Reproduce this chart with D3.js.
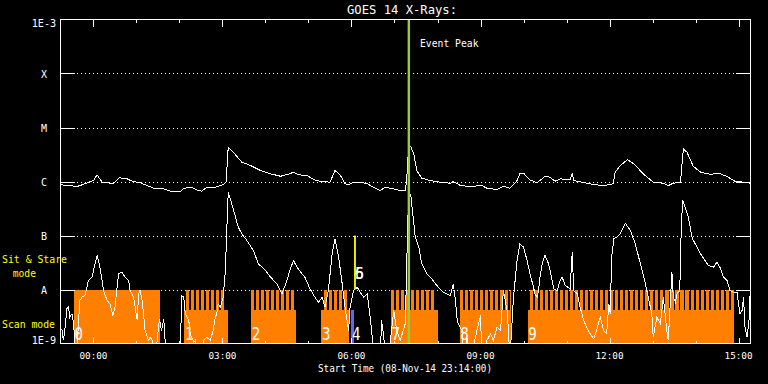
<!DOCTYPE html>
<html><head><meta charset="utf-8">
<script src="https://cdn.jsdelivr.net/npm/d3@7"></script>
<style>html,body{margin:0;background:#000;overflow:hidden}svg{display:block}</style>
</head><body>
<svg id="c" width="768" height="384"></svg>
<script>
// ---------- DATA ----------
const titleText = "GOES 14 X-Rays:";
const startTime = "2014-11-08T23:14:00Z";
const endTime = "2014-11-09T15:16:00Z";
const refDay = "2014-11-09T00:00:00Z"; // times below are minutes from this
const levelValues = [1e-9, 1e-8, 1e-7, 1e-6, 1e-5, 1e-4, 1e-3];
const levelLabels = ["1E-9", "A", "B", "C", "M", "X", "1E-3"];

// GOES long channel (1-8 A)
const longMin = [-46,-23,-19,0,5,12,19,28,36,47,54,65,75,86,95,102,109,121,126,137,144,151,158,170,181,185,188,193,207,219,233,247,261,274,279,286,298,307,316,330,337,344,351,356,363,372,382,391,400,407,419,428,435,437,438,440,443,447,451,458,470,484,498,502,512,526,542,549,563,572,581,591,595,600,609,619,630,637,644,651,665,668,670,682,698,712,725,728,735,745,754,767,781,795,802,809,819,823,828,837,847,861,872,884,895,907,916];
const longFlux = [8.7e-7,8.1e-7,8.4e-7,1.04e-6,1.33e-6,9.7e-7,9.5e-7,9.1e-7,1.17e-6,1.12e-6,1.01e-6,9.5e-7,8.4e-7,7.3e-7,7.5e-7,7.0e-7,6.5e-7,6.5e-7,7.5e-7,7.8e-7,7.0e-7,6.6e-7,7.8e-7,7.8e-7,8.8e-7,9.7e-7,4.3e-6,3.75e-6,2.28e-6,1.98e-6,1.6e-6,1.39e-6,1.25e-6,1.39e-6,1.49e-6,1.33e-6,1.29e-6,1.09e-6,1.01e-6,9.7e-7,1.6e-6,1.33e-6,9.1e-7,8.7e-7,9.7e-7,9.7e-7,9.1e-7,7.8e-7,6.8e-7,7.8e-7,7.3e-7,6.8e-7,6.8e-7,1.04e-6,1.84e-6,4.8e-6,4.3e-6,3.26e-6,1.6e-6,1.15e-6,1.04e-6,9.7e-7,9.3e-7,1.0e-6,8.4e-7,8.1e-7,8.4e-7,7.5e-7,7.1e-7,8.2e-7,7.5e-7,1.04e-6,1.39e-6,1.43e-6,1.07e-6,9.5e-7,1.24e-6,1.2e-6,1.01e-6,1.12e-6,1.07e-6,1.45e-6,1.04e-6,9.7e-7,8.8e-7,8.4e-7,9.1e-7,1.49e-6,1.98e-6,2.52e-6,2.13e-6,1.39e-6,9.7e-7,9.3e-7,8.4e-7,9.3e-7,9.7e-7,4.04e-6,3.49e-6,1.9e-6,1.49e-6,1.35e-6,1.43e-6,1.24e-6,1.01e-6,9.7e-7,9.3e-7];

// GOES short channel (0.5-4 A); values under 1E-9 fall off the plot
const shortMin = [-46,-44,-42,-40,-37,-35,-33,-30,-28,-26,-24,-21,-19,-16,-12,-7,-2,0,5,7,9,12,14,19,23,27,30,35,40,44,49,51,56,61,63,65,68,72,77,79,82,86,92,95,98,100,102,121,123,126,128,133,135,140,142,146,154,158,163,167,170,172,174,177,179,181,184,186,188,193,202,207,214,223,230,240,247,256,263,270,274,279,284,291,295,302,309,314,319,323,328,333,337,342,347,351,356,358,363,368,372,377,382,386,389,391,400,402,405,408,414,419,423,428,435,437,438,440,443,449,454,458,465,472,479,488,498,502,505,507,509,514,516,521,526,535,540,542,549,554,558,563,568,572,577,579,581,586,591,595,600,605,609,614,616,619,621,623,626,630,635,640,642,647,651,654,658,665,668,670,675,679,684,688,693,698,702,707,712,716,719,721,723,726,730,735,742,749,756,763,770,774,779,781,786,791,795,800,802,807,809,812,814,818,820,822,830,835,837,847,858,865,870,874,879,884,888,893,898,900,902,905,907,909,912,915,916];
const shortFlux = [1.74e-9,1.87e-9,1.14e-9,1.74e-9,4.4e-9,4.8e-9,3.07e-9,3.55e-9,2.48e-9,1.14e-9,5e-10,2.32e-9,6.25e-9,7.2e-9,7.7e-9,1.47e-8,1.69e-8,2.25e-8,4.27e-8,3.44e-8,2.59e-8,1.47e-8,9.6e-9,6.25e-9,5.4e-9,3.3e-9,4.7e-9,1.95e-8,2.09e-8,1.69e-8,1.47e-8,9.6e-9,7.2e-9,2.67e-9,8.3e-9,9.6e-9,6.25e-9,1.74e-9,1.14e-9,1.31e-9,1.14e-9,5e-10,2.86e-9,1.74e-9,2.86e-9,1.14e-9,5e-10,5e-10,7.7e-9,7.2e-9,3.55e-9,2.67e-9,1.51e-9,1.06e-9,1.14e-9,5e-10,1.14e-9,1.31e-9,1.14e-9,1.74e-9,3.07e-9,3.55e-9,5.4e-9,4.7e-9,5.8e-9,7.2e-9,2.25e-8,1.24e-7,6.3e-7,3.86e-7,1.43e-7,1.07e-7,8.1e-8,5.3e-8,3.0e-8,2.25e-8,1.69e-8,1.28e-8,8.3e-9,1.47e-8,2.25e-8,3.44e-8,2.59e-8,1.95e-8,1.69e-8,1.03e-8,7.2e-9,5.8e-9,7.2e-9,4.7e-9,1.03e-8,4.58e-8,8.7e-8,4.0e-8,1.28e-8,4.7e-9,1.74e-9,4.7e-9,9.6e-9,1.1e-8,8.9e-9,7.2e-9,8.3e-9,3.07e-9,1.31e-9,5e-10,5e-10,2.67e-9,1.31e-9,5e-10,1.06e-9,4.1e-9,1.74e-9,1.14e-9,2.32e-9,2.25e-8,1.09e-7,6.8e-7,5.1e-7,9.3e-8,6.1e-8,3.0e-8,1.95e-8,1.58e-8,1.19e-8,8.9e-9,7.7e-9,1.28e-8,6.25e-9,3.07e-9,2.32e-9,1.74e-9,5e-10,1.31e-9,5e-10,1.74e-9,3.3e-9,5e-10,1.14e-9,1.51e-9,1.14e-9,2.0e-9,1.74e-9,9.6e-9,4.1e-9,1.74e-9,5e-10,7.2e-9,3.44e-8,7.0e-8,6.1e-8,3.44e-8,1.95e-8,1.1e-8,8.3e-9,7.2e-9,9.6e-9,1.69e-8,3.0e-8,4.27e-8,3.0e-8,1.47e-8,1.03e-8,9.6e-9,1.47e-8,1.69e-8,1.19e-8,1.03e-8,4.9e-8,9.6e-9,8.3e-9,4.7e-9,2.67e-9,2.0e-9,1.51e-9,1.22e-9,1.74e-9,3.07e-9,1.74e-9,1.51e-9,5.4e-9,3.55e-9,4.0e-8,8.7e-8,9.3e-8,1.07e-7,1.69e-7,1.24e-7,7.0e-8,3.0e-8,1.28e-8,7.2e-9,3.55e-9,1.31e-9,3.07e-9,2.32e-9,7.2e-9,1.74e-9,1.14e-9,2.09e-8,7.2e-9,5.8e-9,8.3e-9,9.6e-9,1.24e-7,4.6e-7,2.18e-7,9.3e-8,8.1e-8,4.58e-8,2.78e-8,2.59e-8,3.2e-8,2.59e-8,1.69e-8,1.47e-8,9.6e-9,8.9e-9,8.9e-9,5.4e-9,3.55e-9,4.1e-9,7.2e-9,2.0e-9,1.31e-9,3.07e-9,7.7e-9];

// Observation blocks (minutes from refDay)
const obsLabels = ["0", "1", "2", "3", "4", "7", "8", "9"];
const obsMode   = ["sit", "raster", "raster", "raster", "scan", "raster", "raster", "raster"];
const obsStart  = [-27, 127, 220, 318, 360, 415, 511, 606];
const obsEnd    = [93, 188, 282, 356, 364, 481, 582, 894];
const ssStart   = [-27, 129, 220, 322, null, 415, 511, 609];
const ssEnd     = [93, 185, 282, 354, null, 477, 582, 893];
const ssCadence = 7;    // minutes between sit & stare frames
const ssDuration = 4.3; // minutes per frame
const markerMin = 365;  // short observations 5 & 6
const markerLabels = ["5", "6"];
const eventPeakMin = 440;

// ---------- DRAW ----------
const L = 60.5, R = 750, T = 19.5, B = 343.5;
const ORANGE = "#ff8000";
const FONT = "'DejaVu Sans Mono', monospace";
const t0 = new Date(refDay).getTime();
const toDate = m => new Date(t0 + m * 60000);

const x = d3.scaleUtc().domain([new Date(startTime), new Date(endTime)]).range([L, R]);
const y = d3.scaleLog().domain([1e-9, 1e-3]).range([B, T]);
const scanTop = B - 33.5;

const svg = d3.select("#c");
svg.append("rect").attr("width", 768).attr("height", 384).attr("fill", "#000");
svg.append("defs").append("clipPath").attr("id", "clip")
  .append("rect").attr("x", L).attr("y", T).attr("width", R - L).attr("height", B - T);

// dotted grid
const inner = levelValues.slice(1, -1);
svg.append("g").selectAll("line").data(inner).join("line")
  .attr("x1", L + 16).attr("x2", R - 14)
  .attr("y1", d => Math.round(y(d)) + 0.5).attr("y2", d => Math.round(y(d)) + 0.5)
  .attr("stroke", "#fff").attr("stroke-dasharray", "1,3").attr("shape-rendering", "crispEdges");

// observation blocks
const gObs = svg.append("g").attr("shape-rendering", "crispEdges");
obsLabels.forEach((lab, i) => {
  const mode = obsMode[i];
  const x0 = x(toDate(obsStart[i])), x1 = x(toDate(obsEnd[i]));
  if (mode === "sit") {
    gObs.append("rect").attr("x", x0).attr("width", x1 - x0)
      .attr("y", y(1e-8)).attr("height", B - y(1e-8)).attr("fill", ORANGE);
  } else {
    gObs.append("rect").attr("x", x0).attr("width", x1 - x0)
      .attr("y", scanTop).attr("height", B - scanTop)
      .attr("fill", mode === "scan" ? "#6464f0" : ORANGE);
    if (mode === "raster") {
      const frames = d3.range(ssStart[i], ssEnd[i], ssCadence);
      gObs.selectAll(null).data(frames).join("rect")
        .attr("x", d => x(toDate(d)))
        .attr("width", d => x(toDate(Math.min(d + ssDuration, ssEnd[i]))) - x(toDate(d)))
        .attr("y", y(1e-8)).attr("height", scanTop - y(1e-8) + 1)
        .attr("fill", ORANGE);
    }
  }
});

// x ticks (bottom & top)
const hours = x.ticks(d3.utcHour.every(1));
const majors = x.ticks(d3.utcHour.every(3));
const isMajor = d => d.getUTCHours() % 3 === 0;
const gT = svg.append("g").attr("stroke", "#fff").attr("shape-rendering", "crispEdges");
hours.forEach(d => {
  const xx = Math.round(x(d)) + 0.5;
  const lb = isMajor(d) ? 6 : 3, lt = isMajor(d) ? 7 : 3.5;
  gT.append("line").attr("x1", xx).attr("x2", xx).attr("y1", B).attr("y2", B - lb);
  gT.append("line").attr("x1", xx).attr("x2", xx).attr("y1", T).attr("y2", T + lt);
});
// y ticks (left & right)
inner.forEach(d => {
  const yy = Math.round(y(d)) + 0.5;
  gT.append("line").attr("x1", L).attr("x2", L + 14).attr("y1", yy).attr("y2", yy);
  gT.append("line").attr("x1", R - 14).attr("x2", R).attr("y1", yy).attr("y2", yy);
});

// flux curves
const line = d3.line().x(d => x(toDate(d[0]))).y(d => y(d[1]));
const gL = svg.append("g").attr("clip-path", "url(#clip)");
gL.append("path").datum(longMin.map((m, i) => [m, longFlux[i]]))
  .attr("d", line).attr("fill", "none").attr("stroke", "#fff").attr("stroke-width", 1)
  .attr("shape-rendering", "crispEdges");
gL.append("path").datum(shortMin.map((m, i) => [m, shortFlux[i]]))
  .attr("d", line).attr("fill", "none").attr("stroke", "#fff").attr("stroke-width", 1)
  .attr("shape-rendering", "crispEdges");

// marker for short observations
const xm = x(toDate(markerMin));
svg.append("rect").attr("x", xm - 1).attr("width", 1.8)
  .attr("y", y(1e-7)).attr("height", y(1e-8) - y(1e-7)).attr("fill", "#ffff00");

// observation labels
obsLabels.forEach((lab, i) => {
  svg.append("text").attr("x", x(toDate(obsStart[i])) + 0.5).attr("y", 339.5)
    .attr("font-family", FONT).attr("font-size", 17).attr("fill", "#fff")
    .attr("textLength", 8.5).attr("lengthAdjust", "spacingAndGlyphs").text(lab);
});
markerLabels.forEach(lab => {
  svg.append("text").attr("x", xm).attr("y", 278.5)
    .attr("font-family", FONT).attr("font-size", 16).attr("fill", "#fff")
    .attr("textLength", 9).attr("lengthAdjust", "spacingAndGlyphs").text(lab);
});

// event peak
const xe = x(toDate(eventPeakMin));
svg.append("rect").attr("x", xe - 1.2).attr("width", 2.4).attr("y", T).attr("height", B - T)
  .attr("fill", "#9acd32");
svg.append("text").attr("x", 420).attr("y", 46.5).attr("font-family", FONT)
  .attr("font-size", 10.8).attr("fill", "#fff").attr("textLength", 58.5)
  .attr("lengthAdjust", "spacingAndGlyphs").text("Event Peak");

// frame
svg.append("rect").attr("x", L).attr("y", T).attr("width", R - L).attr("height", B - T)
  .attr("fill", "none").attr("stroke", "#fff").attr("shape-rendering", "crispEdges");

// title
svg.append("text").attr("x", 402).attr("y", 14).attr("text-anchor", "middle")
  .attr("font-family", FONT).attr("font-size", 12.4).attr("fill", "#fff")
  .attr("textLength", 110).attr("lengthAdjust", "spacingAndGlyphs").text(titleText);

// y labels
levelValues.forEach((v, i) => {
  const off = i === 0 ? 0 : (i === levelValues.length - 1 ? 7.3 : 4);
  const lab = levelLabels[i];
  const t = svg.append("text").attr("x", 44).attr("y", y(v) + off).attr("text-anchor", "middle")
    .attr("font-family", FONT).attr("font-size", 10).attr("fill", "#fff").text(lab);
  if (lab.length > 1) t.attr("textLength", 24.5).attr("lengthAdjust", "spacingAndGlyphs");
});

// x labels
const fmt = d3.utcFormat("%H:%M");
majors.forEach(d => {
  svg.append("text").attr("x", x(d)).attr("y", 358.5).attr("text-anchor", "middle")
    .attr("font-family", FONT).attr("font-size", 9.3).attr("fill", "#fff")
    .attr("textLength", 28).attr("lengthAdjust", "spacingAndGlyphs").text(fmt(d));
});
svg.append("text").attr("x", 405).attr("y", 371.5).attr("text-anchor", "middle")
  .attr("font-family", FONT).attr("font-size", 10.6).attr("fill", "#fff")
  .attr("textLength", 174).attr("lengthAdjust", "spacingAndGlyphs")
  .text("Start Time (" + d3.utcFormat("%d-%b-%y %H:%M:%S")(new Date(startTime)) + ")");

// mode legend
const leg = [["Sit & Stare", 2, 263, 65], ["mode", 12.7, 276.5, 23.3], ["Scan mode", 2, 328.3, 53]];
leg.forEach(([s, lx, ly, w]) => {
  svg.append("text").attr("x", lx).attr("y", ly).attr("font-family", FONT)
    .attr("font-size", 10.5).attr("fill", "#ffff00").attr("textLength", w)
    .attr("lengthAdjust", "spacingAndGlyphs").text(s);
});
</script>
</body></html>
